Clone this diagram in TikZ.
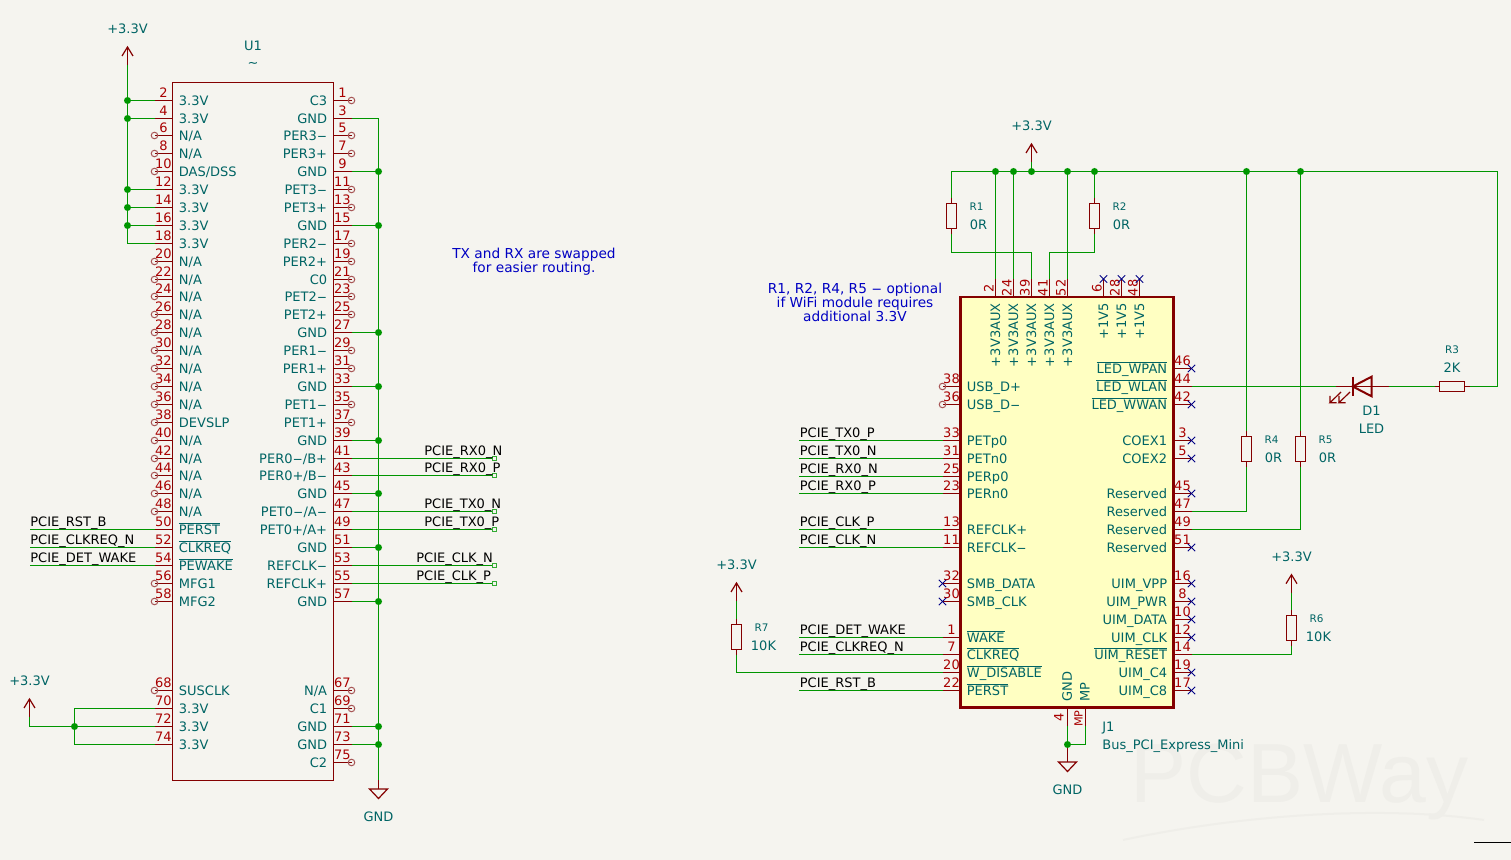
\documentclass[tikz,border=0pt]{standalone}
\usepackage{fontspec}
\setmainfont{DejaVu Sans}
\setsansfont{DejaVu Sans}
\usepackage{tikz}
\definecolor{sheet}{HTML}{F5F4EF}
\definecolor{wirecol}{HTML}{009600}
\definecolor{pincol}{HTML}{840000}
\definecolor{numcol}{HTML}{A90000}
\definecolor{txtcol}{HTML}{006464}
\definecolor{notecol}{HTML}{0000C2}
\definecolor{nccol}{HTML}{000084}
\definecolor{opencol}{HTML}{A85858}
\definecolor{bodycol}{HTML}{FFFFC2}
\definecolor{markcol}{HTML}{EFEEE9}
\newcommand{\schfont}{\fontsize{6.5}{7}\selectfont}
\newcommand{\notefont}{\fontsize{6.85}{7}\selectfont}
\newcommand{\tinyfont}{\fontsize{5.2}{6}\selectfont}
\newcommand{\ovl}[1]{\vbox{\hrule height .4pt\kern .8pt\hbox{#1}}}
\newcommand{\mn}{\scalebox{2.2}[1]{-}}
\tikzset{
	wire/.style={draw=wirecol, line width=.6pt},
	pinline/.style={draw=pincol, line width=.6pt},
	part/.style={draw=pincol, line width=.6pt},
	pinnum/.style={text=numcol, font=\schfont, inner sep=0pt, anchor=base},
	pinname/.style={text=txtcol, font=\schfont, inner sep=0pt},
	reftext/.style={text=txtcol, font=\schfont, inner sep=0pt},
	smalltext/.style={text=txtcol, font=\tinyfont, inner sep=0pt},
	netlbl/.style={text=black, font=\schfont, inner sep=0pt, anchor=base west, yshift=1.5pt},
	notetext/.style={text=notecol, font=\notefont, inner sep=0pt, align=center},
	ncmark/.style={draw=nccol, line width=.5pt},
	opendot/.style={draw=opencol, line width=.5pt},
	junc/.style={fill=wirecol},
	lblend/.style={draw=wirecol!80, line width=.5pt, fill=sheet},
}
% pins: prefix, edge of the body, y or x, number, name
\newcommand{\pinW}[5]{
	\draw[pinline] (#2,#3)--++(-18,0) coordinate (#1#4);
	\node[pinnum] (#1n#4) at (#2-9,#3-3) {#4};
	\node[pinname, anchor=base west] (#1t#4) at (#2+6,#3+5.2) {#5};
}
\newcommand{\pinE}[5]{
	\draw[pinline] (#2,#3)--++(18,0) coordinate (#1#4);
	\node[pinnum] (#1n#4) at (#2+9,#3-3) {#4};
	\node[pinname, anchor=base east] (#1t#4) at (#2-6,#3+5.2) {#5};
}
\newcommand{\pinN}[4]{
	\draw[pinline] (#2,#3)--++(0,-18) coordinate (#1#4);
	\node[pinnum, rotate=90] (#1n#4) at (#2-2,#3-9) {#4};
}
% power arrow: name, x, y of the tip
\newcommand{\pwr}[3]{
	\draw[pinline] (#2-5.5,#3+9)--(#2,#3)--(#2+5.5,#3+9);
	\draw[pinline] (#2,#3)--(#2,#3+18) coordinate (#1);
	\node[reftext] (#1txt) at (#2,#3-18) {+3.3V};
}
% ground: name, x, top of the stem, top of the triangle
\newcommand{\gnd}[4]{
	\draw[pinline] (#2,#3) coordinate (#1)--(#2,#4);
	\draw[pinline] (#2-9,#4)--(#2+9,#4)--(#2,#4+9.5)--cycle;
	\node[reftext] (#1txt) at (#2,#4+27.5) {GND};
}
% resistor, upright: name, x, y of the middle, reference, value
\newcommand{\resV}[5]{
	\draw[pinline] (#2,#3-18) coordinate (#1t)--(#2,#3+18) coordinate (#1b);
	\draw[pinline, fill=sheet] (#2-5,#3-12.5) rectangle (#2+5,#3+12.5);
	\node[smalltext] (#1ref) at (#2+25,#3-9.3) {#4};
	\node[reftext] (#1val) at (#2+27,#3+9) {#5};
}
\newcommand{\ncx}[1]{
	\draw[ncmark] ([shift={(-3.7,-3.7)}]#1)--([shift={(3.7,3.7)}]#1);
	\draw[ncmark] ([shift={(-3.7,3.7)}]#1)--([shift={(3.7,-3.7)}]#1);
}

\begin{document}
\begin{tikzpicture}[x=.5pt, y=-.5pt]
	\useasboundingbox (0,0) rectangle (1511,860);
	\fill[sheet] (0,0) rectangle (1511,860);
	% faint mark
	\node[text=markcol, font=\fontspec{Liberation Sans}\fontsize{42}{42}\selectfont, inner sep=0pt, anchor=base west] (mark) at (1130,803) {PCBWay};
	\draw[markcol, line width=1pt] (1123,840) .. controls (1240,815) and (1380,805) .. (1484,820);
	\draw[black, line width=.5pt] (1474,842.5)--(1511,842.5);

	% U1
	\draw[part] (172.5,82.5) rectangle (333.5,780.5);
	\node[reftext] (u1ref) at (253,46) {U1};
	\node[reftext] (u1val) at (253,65) {\textasciitilde};
	\foreach \n/\t in {2/3.3V,4/3.3V,6/{N/A},8/{N/A},10/{DAS/DSS},12/3.3V,14/3.3V,16/3.3V,18/3.3V,20/{N/A},22/{N/A},24/{N/A},26/{N/A},28/{N/A},30/{N/A},32/{N/A},34/{N/A},36/{N/A},38/DEVSLP,40/{N/A},42/{N/A},44/{N/A},46/{N/A},48/{N/A},50/{\ovl{PERST}},52/{\ovl{CLKREQ}},54/{\ovl{PEWAKE}},56/MFG1,58/MFG2,68/SUSCLK,70/3.3V,72/3.3V,74/3.3V}{
		\pgfmathsetmacro\y{floor(100.2+8.945*(\n-2))+.5}
		\pinW{u}{172.5}{\y}{\n}{\t}
	}
	\foreach \n/\t in {1/C3,3/GND,5/PER3\mn,7/PER3+,9/GND,11/PET3\mn,13/PET3+,15/GND,17/PER2\mn,19/PER2+,21/C0,23/PET2\mn,25/PET2+,27/GND,29/PER1\mn,31/PER1+,33/GND,35/PET1\mn,37/PET1+,39/GND,41/{PER0\mn/B+},43/{PER0+/B\mn},45/GND,47/{PET0\mn/A\mn},49/{PET0+/A+},51/GND,53/REFCLK\mn,55/REFCLK+,57/GND,67/{N/A},69/C1,71/GND,73/GND,75/C2}{
		\pgfmathsetmacro\y{floor(100.2+8.945*(\n-1))+.5}
		\pinE{u}{333.5}{\y}{\n}{\t}
	}
	\foreach \n in {6,8,10,20,22,24,26,28,30,32,34,36,38,40,42,44,46,48,56,58,68,1,5,7,11,13,17,19,21,23,25,29,31,35,37,67,69,75}
		\draw[opendot] (u\n) circle (3.3);

	% U1 supply
	\pwr{pwrU}{127.5}{47}
	\draw[wire] (pwrU)--(pwrU |- u18)--(u18);
	\foreach \n in {2,4,12,14,16}{
		\draw[wire] (pwrU |- u\n)--(u\n);
		\fill[junc] (pwrU |- u\n) circle (3.5);
	}
	\pwr{pwrB}{29.5}{699}
	\coordinate (brk) at (74.5,726.5);
	\draw[wire] (pwrB) |- (u72);
	\draw[wire] (u70) -| (brk) |- (u74);
	\fill[junc] (brk) circle (3.5);

	% U1 ground
	\gnd{gndU}{378.5}{780}{789}
	\draw[wire] (u3) -| (gndU);
	\foreach \n in {9,15,27,33,39,45,51,57,71,73}{
		\draw[wire] (u\n)--(u\n -| gndU);
		\fill[junc] (u\n -| gndU) circle (3.5);
	}

	% U1 nets
	\coordinate (lblU) at (494.5,0);
	\foreach \n/\x/\t in {41/424/PCIE\_RX0\_N,43/424/PCIE\_RX0\_P,47/424/PCIE\_TX0\_N,49/424/PCIE\_TX0\_P,53/416/PCIE\_CLK\_N,55/416/PCIE\_CLK\_P}{
		\draw[wire] (u\n)--(u\n -| lblU);
		\draw[lblend] ([shift={(-2,-2)}]u\n -| lblU) rectangle ([shift={(2,2)}]u\n -| lblU);
		\coordinate (lx) at (\x,0);
		\node[netlbl] (lu\n) at (u\n -| lx) {\t};
	}
	\coordinate (lblW) at (30,0);
	\foreach \n/\t in {50/PCIE\_RST\_B,52/PCIE\_CLKREQ\_N,54/PCIE\_DET\_WAKE}{
		\draw[wire] (u\n)--(u\n -| lblW);
		\node[netlbl] (lu\n) at (u\n -| lblW) {\t};
	}
	\node[notetext] (noteA) at (534,262) {TX and RX are swapped\\for easier routing.};

	% J1
	\draw[pincol, fill=bodycol, line width=1.2pt] (960.5,297) rectangle (1173.5,707.5);
	\node[reftext, anchor=base west] (j1ref) at (1102,732) {J1};
	\node[reftext, anchor=base west] (j1val) at (1102,750) {Bus\_PCI\_Express\_Mini};
	\foreach \n/\x/\t in {2/995.5/+3V3AUX,24/1013.5/+3V3AUX,39/1031.5/+3V3AUX,41/1049.5/+3V3AUX,52/1067.5/+3V3AUX,6/1103.5/+1V5,28/1121.5/+1V5,48/1139.5/+1V5}{
		\pinN{j}{\x}{297}{\n}
		\node[pinname, rotate=90, anchor=base east] (jt\n) at (\x+4.5,303) {\t};
	}
	\foreach \n/\y/\t in {38/386.5/USB\_D+,36/404.5/USB\_D\mn,33/440.5/PETp0,31/458.5/PETn0,25/476.5/PERp0,23/493.5/PERn0,13/529.5/REFCLK+,11/547.5/REFCLK\mn,32/583.5/SMB\_DATA,30/601.5/SMB\_CLK,1/637.5/{\ovl{WAKE}},7/654.5/{\ovl{CLKREQ}},20/672.5/{\ovl{W\_DISABLE}},22/690.5/{\ovl{PERST}}}{
		\pinW{j}{960.5}{\y}{\n}{\t}
	}
	\foreach \n/\y/\t in {46/368.5/{\ovl{LED\_WPAN}},44/386.5/{\ovl{LED\_WLAN}},42/404.5/{\ovl{LED\_WWAN}},3/440.5/COEX1,5/458.5/COEX2,45/493.5/Reserved,47/511.5/Reserved,49/529.5/Reserved,51/547.5/Reserved,16/583.5/UIM\_VPP,8/601.5/UIM\_PWR,10/619.5/UIM\_DATA,12/637.5/UIM\_CLK,14/654.5/{\ovl{UIM\_RESET}},19/672.5/UIM\_C4,17/690.5/UIM\_C8}{
		\pinE{j}{1173.5}{\y}{\n}{\t}
	}
	\foreach \n in {6,28,48,46,42,3,5,45,51,16,8,10,12,19,17,32,30}{
		\ncx{j\n}
	}
	\foreach \n in {38,36}
		\draw[opendot] (j\n) circle (3.3);

	% J1 bottom
	\draw[pinline] (1067.5,707.5)--(1067.5,726) coordinate (j4);
	\draw[pinline] (1085.5,707.5)--(1085.5,726) coordinate (jMP);
	\node[pinnum, rotate=90] (jn4) at (1063.5,717) {4};
	\node[pinnum, rotate=90, font=\fontsize{5.6}{6}\selectfont] (jnMP) at (1082.5,718.5) {MP};
	\node[pinname, rotate=90, anchor=base west] (jt4) at (1071.8,702) {GND};
	\node[pinname, rotate=90, anchor=base west] (jtMP) at (1089.5,702) {MP};
	\gnd{gndJ}{1067.5}{744.5}{762}
	\draw[wire] (j4)--(gndJ);
	\draw[wire] (jMP) |- (gndJ);
	\fill[junc] (gndJ) circle (3.5);

	% supply rail
	\pwr{pwrJ}{1031.5}{144}
	\coordinate (busE) at (1497.5,171.5);
	\coordinate (midy) at (0,252.5);
	\resV{r1}{951.5}{216}{R1}{0R}
	\resV{r2}{1094.5}{216}{R2}{0R}
	\resV{r4}{1246.5}{449}{R4}{0R}
	\resV{r5}{1300.5}{449}{R5}{0R}
	% R3 and the LED
	\draw[pinline] (1434.5,386.5) coordinate (r3l)--(1470,386.5) coordinate (r3r);
	\draw[pinline, fill=sheet] (1439.5,381.5) rectangle (1464.5,391.5);
	\node[smalltext] (r3ref) at (1452,350) {R3};
	\node[reftext] (r3val) at (1452,368) {2K};
	\draw[pinline] (1335.5,386.5) coordinate (leda)--(1389,386.5) coordinate (ledk);
	\draw[pincol, line width=1pt] (1352.7,376.7)--(1352.7,396.3);
	\draw[pincol, line width=1pt] (1371.6,376.7)--(1371.6,396.3)--(1352.7,386.5)--cycle;
	\draw[pinline] (1341,392)--(1330,402.7)--(1336.5,402.7) (1330,402.7)--(1330,396);
	\draw[pinline] (1350,392)--(1339,402.7)--(1345.5,402.7) (1339,402.7)--(1339,396);
	\node[reftext] (d1ref) at (1371.5,411) {D1};
	\node[reftext] (d1val) at (1371.5,429) {LED};
	% rail wires
	\draw[wire] (r1t) |- (busE) |- (r3r);
	\draw[wire] (r3l)--(ledk);
	\draw[wire] (leda)--(j44);
	\draw[wire] (pwrJ)--(pwrJ |- busE);
	\draw[wire] (j2)--(j2 |- busE);
	\draw[wire] (j24)--(j24 |- busE);
	\draw[wire] (j52)--(j52 |- busE);
	\draw[wire] (r2t)--(r2t |- busE);
	\draw[wire] (r4t)--(r4t |- busE);
	\draw[wire] (r5t)--(r5t |- busE);
	\draw[wire] (r1b) |- (j39 |- midy)--(j39);
	\draw[wire] (r2b) |- (j41 |- midy)--(j41);
	\draw[wire] (r4b) |- (j47);
	\draw[wire] (r5b) |- (j49);
	\foreach \c in {j2,j24,pwrJ,j52,r2t,r4t,r5t}
		\fill[junc] (\c |- busE) circle (3.5);

	% J1 nets
	\coordinate (lblJ) at (798.5,0);
	\foreach \n/\t in {33/PCIE\_TX0\_P,31/PCIE\_TX0\_N,25/PCIE\_RX0\_N,23/PCIE\_RX0\_P,13/PCIE\_CLK\_P,11/PCIE\_CLK\_N,1/PCIE\_DET\_WAKE,7/PCIE\_CLKREQ\_N,22/PCIE\_RST\_B}{
		\draw[wire] (j\n)--(j\n -| lblJ);
		\node[netlbl, xshift=.5pt] (lj\n) at (j\n -| lblJ) {\t};
	}
	\node[notetext] (noteB) at (855,302) {R1, R2, R4, R5 \mn{} optional\\if WiFi module requires\\additional 3.3V};

	% pull-ups
	\pwr{pwrR}{736.5}{583}
	\resV{r7}{736.5}{637}{R7}{10K}
	\draw[wire] (pwrR)--(r7t);
	\draw[wire] (r7b) |- (j20);
	\pwr{pwrS}{1291.5}{574.7}
	\resV{r6}{1291.5}{628}{R6}{10K}
	\draw[wire] (pwrS)--(r6t);
	\draw[wire] (r6b) |- (j14);
\end{tikzpicture}
\end{document}
